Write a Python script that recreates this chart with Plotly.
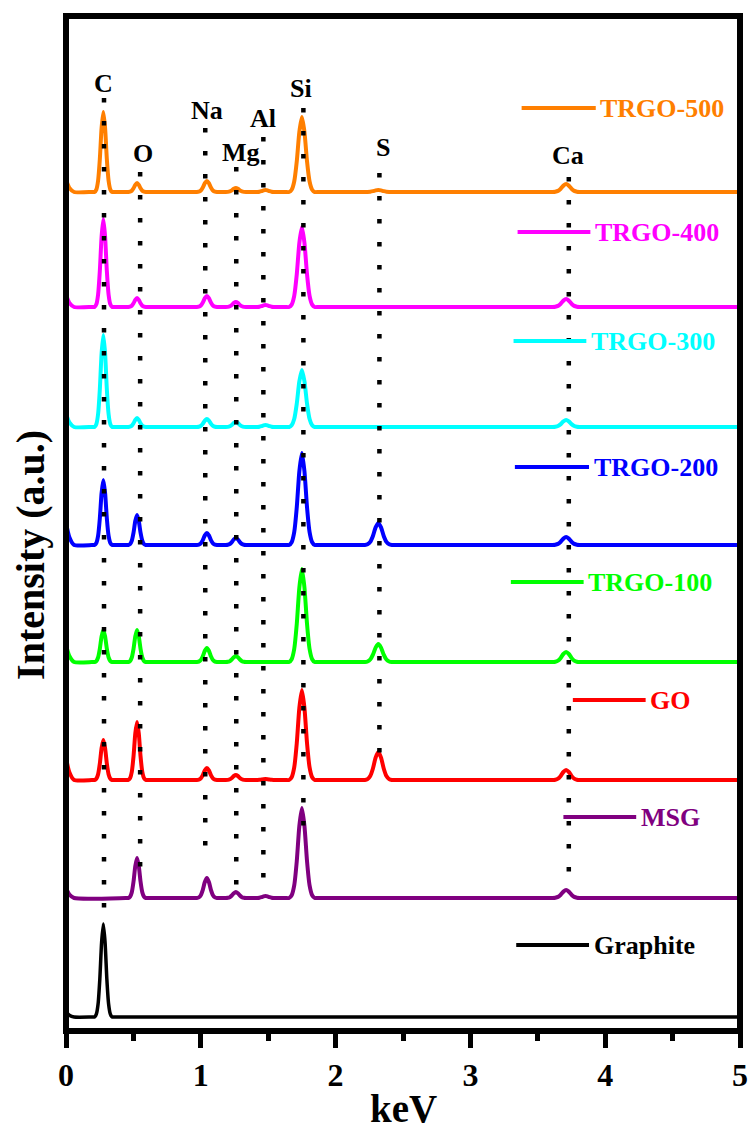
import plotly.graph_objects as go

# ---------------- data ----------------
SERIES = ["TRGO-500", "TRGO-400", "TRGO-300", "TRGO-200", "TRGO-100", "GO", "MSG", "Graphite"]
COLORS = ["#FF7F00", "#FF00FF", "#00FFFF", "#0000FF", "#00FF00", "#FF0000", "#800080", "#000000"]

ELEMENTS = ["C", "O", "Na", "Mg", "Al", "Si", "S", "Ca"]
PEAK_KEV = [0.277, 0.527, 1.045, 1.26, 1.48, 1.75, 2.317, 3.71]      # peak centres in spectra
LINE_KEV = [0.282, 0.55, 1.033, 1.263, 1.464, 1.761, 2.325, 3.73]    # dotted guide lines
HALF_WIDTH_KEV = [0.065, 0.065, 0.075, 0.075, 0.075, 0.095, 0.10, 0.10]

# stacking offsets (a.u.) and starting level at 0 keV
OFFSETS = [839, 724, 604, 486, 369, 251, 133, 14]
START_H = [12, 12, 13, 22, 17, 22, 10, 5]

# peak heights above each baseline, order C, O, Na, Mg, Al, Si, S, Ca
H_TRGO500 = [80, 9, 11, 4, 2, 75, 2, 8]
H_TRGO400 = [88, 9, 11, 5, 2, 80, 0, 8]
H_TRGO300 = [92, 9, 8, 5, 2, 57, 0, 7]
H_TRGO200 = [65, 30, 12, 7, 0, 92, 22, 8]
H_TRGO100 = [32, 32, 14, 6, 0, 93, 18, 10]
H_GO = [40, 58, 12, 5, 1, 90, 28, 10]
H_MSG = [0, 40, 20, 6, 2, 90, 0, 8]
H_GRAPHITE = [93, 0, 0, 0, 0, 0, 0, 0]
HEIGHTS = [H_TRGO500, H_TRGO400, H_TRGO300, H_TRGO200, H_TRGO100, H_GO, H_MSG, H_GRAPHITE]

# drawn peak profile (relative) sampled across the peak, in units of half-width
PROFILE_DX = [-1.3, -1.0, -0.8, -0.6, -0.4, -0.2, 0.0, 0.2, 0.4, 0.6, 0.8, 1.0, 1.3]
PROFILE_REL = [0.0, 0.0, 0.03, 0.14, 0.41, 0.8, 1.0, 0.8, 0.41, 0.14, 0.03, 0.0, 0.0]

X_MAX = 5.0
Y_MAX = 1015

# ---------------- layout helpers (positions / styles) ----------------
LEG_X0 = [3.38, 3.35, 3.32, 3.33, 3.30, 3.76, 3.69, 3.34]
LEG_X1 = [3.93, 3.89, 3.86, 3.88, 3.84, 4.30, 4.23, 3.88]
LEG_Y = [923, 799, 690, 564, 449, 331, 214, 86]
LABEL_X = [0.28, 0.572, 1.048, 1.30, 1.464, 1.746, 2.348, 3.722]
LABEL_Y = [948, 878, 921, 879, 913, 943, 884, 876]
GUIDE_TOP = [933, 859, 903, 864, 894, 923, 858, 854]
GUIDE_BOT = [109, 151, 171, 131, 139, 191, 264, 146]

FONT = "Liberation Serif"

fig = go.Figure()

for name, color, off, h0, heights in zip(SERIES, COLORS, OFFSETS, START_H, HEIGHTS):
    xs = [0.0, 0.025, 0.06]
    ys = [off + h0, off + h0 * 0.35, off]
    for c, w, h in zip(PEAK_KEV, HALF_WIDTH_KEV, heights):
        if h <= 0:
            continue
        for dx, r in zip(PROFILE_DX, PROFILE_REL):
            xs.append(c + dx * w)
            ys.append(off + h * r)
    xs.append(X_MAX)
    ys.append(off)
    fig.add_trace(go.Scatter(
        x=xs, y=ys, mode="lines", name=name,
        line=dict(color=color, width=3.5 if name == "Graphite" else 4, shape="spline", smoothing=0.6),
        showlegend=False, hoverinfo="skip",
    ))

shapes = []
annotations = []

# dotted guide lines and element labels
for el, lx, tx, ty, y0, y1 in zip(ELEMENTS, LINE_KEV, LABEL_X, LABEL_Y, GUIDE_TOP, GUIDE_BOT):
    shapes.append(dict(type="line", xref="x", yref="y", x0=lx, x1=lx, y0=y0, y1=y1,
                       line=dict(color="black", width=4.5, dash="4.5px,18.5px"), layer="above"))
    annotations.append(dict(x=tx, y=ty, xref="x", yref="y", text=el, showarrow=False,
                            xanchor="center", yanchor="middle",
                            font=dict(family=FONT, size=26, color="black", weight="bold")))

# hand-drawn style legend entries
for name, color, x0, x1, y in zip(SERIES, COLORS, LEG_X0, LEG_X1, LEG_Y):
    shapes.append(dict(type="line", xref="x", yref="y", x0=x0, x1=x1, y0=y, y1=y,
                       line=dict(color=color, width=4), layer="above"))
    annotations.append(dict(x=x1 + 0.02, y=y, xref="x", yref="y", text=name, showarrow=False,
                            xanchor="left", yanchor="middle",
                            font=dict(family=FONT, size=26, color=color, weight="bold")))

# frame
shapes.append(dict(type="rect", xref="paper", yref="paper", x0=0, x1=1, y0=0, y1=1,
                   line=dict(color="black", width=6), layer="above"))

# axis titles
annotations.append(dict(x=0.5, y=-0.076, xref="paper", yref="paper", text="keV", showarrow=False,
                        xanchor="center", yanchor="middle",
                        font=dict(family=FONT, size=39, color="black", weight="bold")))
annotations.append(dict(x=-0.052, y=0.469, xref="paper", yref="paper", text="Intensity (a.u.)",
                        showarrow=False, textangle=-90, xanchor="center", yanchor="middle",
                        font=dict(family=FONT, size=40, color="black", weight="bold")))

fig.update_layout(
    width=748, height=1133,
    margin=dict(l=66, r=8, t=16, b=102),
    paper_bgcolor="white", plot_bgcolor="white",
    shapes=shapes, annotations=annotations,
    xaxis=dict(range=[0, X_MAX], dtick=1, tick0=0, showgrid=False, zeroline=False, showline=False,
               ticks="outside", ticklen=16, tickwidth=5, tickcolor="black",
               minor=dict(dtick=0.5, ticks="outside", ticklen=9, tickwidth=5, tickcolor="black"),
               tickfont=dict(family=FONT, size=32, color="black", weight="bold"),
               automargin=False, fixedrange=True),
    yaxis=dict(range=[0, Y_MAX], showgrid=False, zeroline=False, showline=False,
               showticklabels=False, ticks="", automargin=False, fixedrange=True),
)

fig.write_html("out.html")
